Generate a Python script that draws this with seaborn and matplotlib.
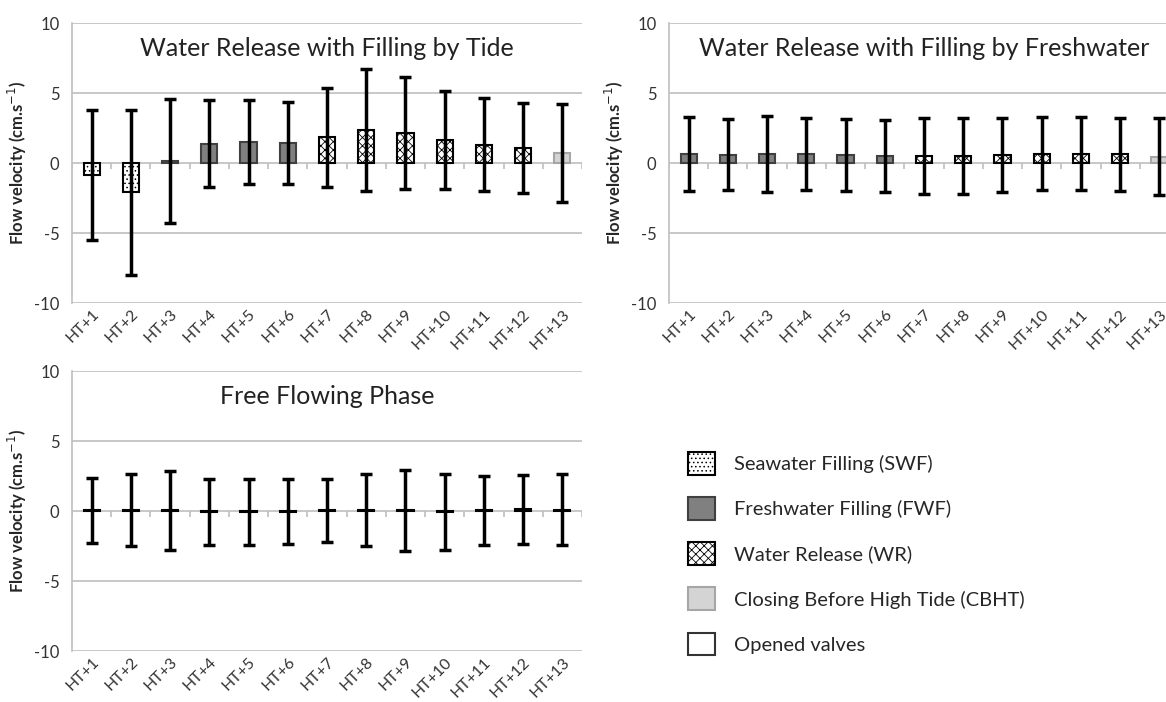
import matplotlib
matplotlib.use('agg')
import matplotlib.pyplot as plt
from matplotlib.patches import Patch
import numpy as np
import pandas as pd
import seaborn as sns

cats = ["HT+%d" % i for i in range(1, 14)]

# panel 1: water release with filling by tide
tide_mean = [-0.85, -2.1, 0.15, 1.38, 1.5, 1.43, 1.83, 2.36, 2.12, 1.67, 1.31, 1.07, 0.74]
tide_sd = [4.66, 5.92, 4.45, 3.12, 2.97, 2.9, 3.55, 4.36, 4.0, 3.5, 3.3, 3.2, 3.5]
tide_phase = ["SWF", "SWF", "FWF", "FWF", "FWF", "FWF", "WR", "WR", "WR", "WR", "WR", "WR", "CBHT"]

# panel 2: water release with filling by freshwater
fresh_mean = [0.65, 0.6, 0.65, 0.65, 0.57, 0.52, 0.5, 0.5, 0.57, 0.67, 0.67, 0.62, 0.45]
fresh_sd = [2.63, 2.55, 2.7, 2.6, 2.6, 2.56, 2.7, 2.68, 2.65, 2.6, 2.62, 2.6, 2.75]
fresh_phase = ["FWF"] * 6 + ["WR"] * 6 + ["CBHT"]

# panel 3: free flowing phase
free_mean = [0.05, 0.05, 0.05, -0.05, -0.05, -0.05, 0.05, 0.05, 0.05, -0.05, 0.05, 0.12, 0.1]
free_sd = [2.3, 2.58, 2.8, 2.36, 2.35, 2.33, 2.26, 2.56, 2.9, 2.7, 2.47, 2.45, 2.55]
free_phase = ["OV"] * 13

titles = ["Water Release with Filling by Tide",
          "Water Release with Filling by Freshwater",
          "Free Flowing Phase"]

legend_keys = ["SWF", "FWF", "WR", "CBHT", "OV"]
legend_labels = ["Seawater Filling (SWF)", "Freshwater Filling (FWF)", "Water Release (WR)",
                 "Closing Before High Tide (CBHT)", "Opened valves"]

# face, edge, hatch
style = {
    "SWF": ("white", "black", "...."),
    "FWF": ("#808080", "#404040", None),
    "WR": ("white", "black", "xxxx"),
    "CBHT": ("#d4d4d4", "#a6a6a6", None),
    "OV": ("white", "black", None),
}

sns.set_style("white")
plt.rcParams['font.family'] = ['Lato', 'DejaVu Sans']
plt.rcParams['hatch.linewidth'] = 0.6

fig = plt.figure(figsize=(11.66, 7.02), dpi=100)
W, H = 1166.0, 702.0
boxes = [(72, 23, 510, 280), (669, 23, 510, 280), (72, 371, 510, 280)]
grey = "#bfbfbf"

panels = [(tide_mean, tide_sd, tide_phase), (fresh_mean, fresh_sd, fresh_phase),
          (free_mean, free_sd, free_phase)]

for (x0, y0, w, h), (m, s, ph), title in zip(boxes, panels, titles):
    ax = fig.add_axes([x0 / W, 1 - (y0 + h) / H, w / W, h / H])
    df = pd.DataFrame({"cat": cats, "mean": m, "sd": s, "phase": ph})
    sns.barplot(data=df, x="cat", y="mean", color="white", width=0.41, ax=ax,
                errorbar=None, zorder=3)
    for p in ax.patches:
        i = int(round(p.get_x() + p.get_width() / 2))
        face, edge, hatch = style[ph[i]]
        p.set_facecolor(face)
        p.set_edgecolor(edge)
        p.set_linewidth(1.5)
        if hatch:
            p.set_hatch(hatch)
    ax.errorbar(np.arange(len(cats)), df["mean"], yerr=df["sd"], fmt="none",
                ecolor="black", elinewidth=2.5, capsize=4, capthick=2.5, zorder=4)
    ax.set_ylim(-10, 10)
    ax.set_xlim(-0.5, len(cats) - 0.5)
    ax.set_yticks([-10, -5, 0, 5, 10])
    ax.set_yticklabels(["-10", "-5", "0", "5", "10"])
    for yv in [-10, -5, 5, 10]:
        ax.axhline(yv, color=grey, lw=1.2, zorder=1)
    ax.axhline(0, color=grey, lw=1.2, zorder=2)
    ax.vlines(np.arange(len(cats) + 1) - 0.5, -0.4, 0, color=grey, lw=1.2, zorder=2)
    for sp in ["top", "right", "bottom"]:
        ax.spines[sp].set_visible(False)
    ax.spines["left"].set_color(grey)
    ax.spines["left"].set_linewidth(1.2)
    ax.tick_params(axis="y", length=5, color=grey, labelsize=12, labelcolor="#333333", pad=4)
    ax.tick_params(axis="x", length=0, labelsize=11.5, labelcolor="#333333", pad=3)
    plt.setp(ax.get_xticklabels(), rotation=45, ha="right", rotation_mode="anchor")
    ax.set_xlabel("")
    ax.set_ylabel("Flow velocity (cm.s$^{-1}$)", fontsize=12, fontweight="bold", labelpad=4)
    ax.text(0.5, 0.91, title, transform=ax.transAxes, ha="center", va="center",
            fontsize=18, color="#222222")
    ax.set_facecolor("none")

handles = []
for k in legend_keys:
    face, edge, hatch = style[k]
    handles.append(Patch(facecolor=face, edgecolor=edge if k != "OV" else "#333333",
                         hatch=hatch, linewidth=1.5))
fig.legend(handles, legend_labels, loc="upper left", bbox_to_anchor=(688 / W, 1 - 452 / H),
           frameon=False, fontsize=14.5, handlelength=1.35, handleheight=1.35,
           labelspacing=1.12, handletextpad=0.95, borderpad=0, borderaxespad=0)

fig.savefig("out.png", dpi=100)
